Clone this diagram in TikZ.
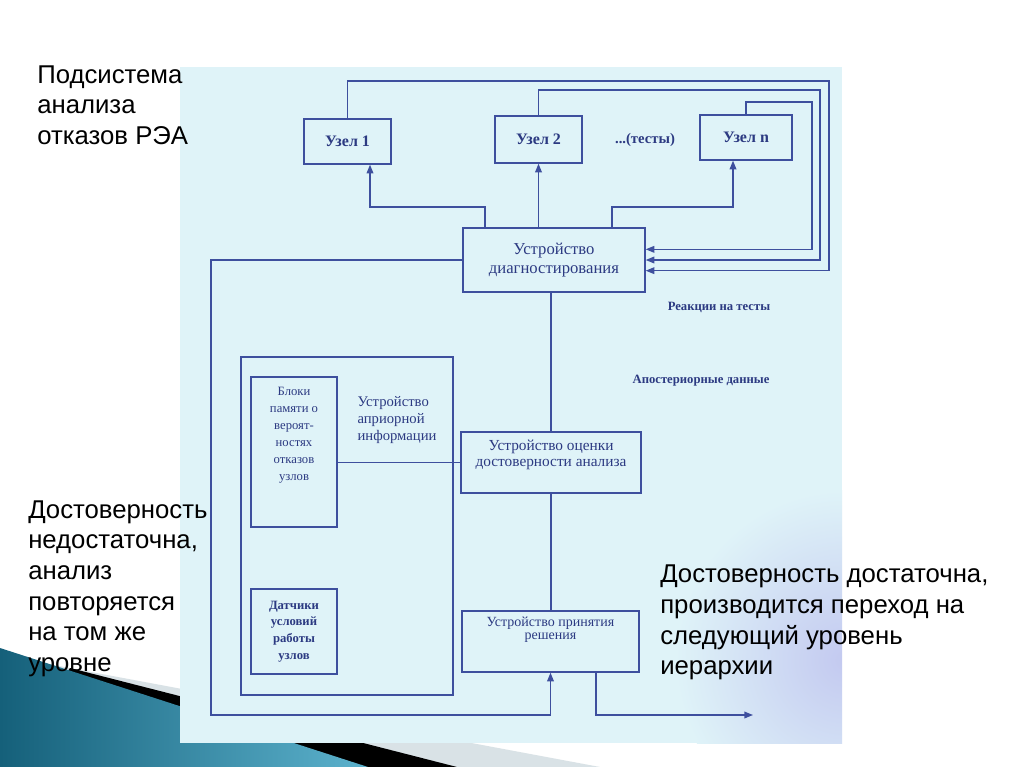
\documentclass[tikz,border=0pt]{standalone}
\usepackage{fontspec}
\setmainfont{Liberation Serif}
\newfontfamily\slidefont{Liberation Sans}
\usetikzlibrary{arrows.meta}
\definecolor{scanbg}{HTML}{DFF3F8}
\definecolor{lavender}{HTML}{C3C9F0}
\definecolor{ink}{HTML}{3E4F9E}
\definecolor{inktext}{HTML}{2C3A82}
\definecolor{tealdark}{HTML}{15607A}
\definecolor{teallight}{HTML}{5CB2CD}
\definecolor{bandgray}{HTML}{D9E2E6}
\tikzset{
    unit/.style={draw=ink, line width=1pt, text=inktext, align=center, inner sep=1pt},
    caption/.style={text=inktext, align=center, inner sep=0pt},
    tag/.style={text=inktext, inner sep=0pt, font=\bfseries\fontsize{9.5}{11}\selectfont},
    link/.style={draw=ink, line width=1pt},
    arr/.style={link, -{Triangle[length=6.5pt,width=5pt]}},
    note/.style={anchor=west, align=left, inner sep=0pt, font=\slidefont\fontsize{19.3}{23}\selectfont},
}

\begin{document}
\begin{tikzpicture}[x=0.75pt,y=-0.75pt]
% slide background
\fill[white] (0,0) rectangle (1024,767);
\useasboundingbox (0,0) rectangle (1024,767);
\fill[bandgray] (0,655) -- (600,767) -- (0,767) -- cycle;
\fill[black] (70,668) -- (457,767) -- (0,767) -- cycle;
\shade[left color=tealdark, right color=teallight] (0,648) -- (368,767) -- (0,767) -- cycle;
% scanned figure
\fill[scanbg] (180,67) rectangle (842,743);
\begin{scope}
\clip (180,67) rectangle (842,743);
\shade[inner color=lavender, outer color=scanbg] (845,660) circle (170);
\end{scope}

% nodes
\node[unit, minimum width=65.25pt, minimum height=33.75pt, font=\bfseries\fontsize{12}{14}\selectfont] (u1) at (347.5,141.5) {Узел 1};
\node[unit, minimum width=65.25pt, minimum height=35.25pt, font=\bfseries\fontsize{12}{14}\selectfont] (u2) at (538.5,139.5) {Узел 2};
\node[unit, minimum width=69pt, minimum height=33.75pt, font=\bfseries\fontsize{12}{14}\selectfont] (un) at (746,137.5) {Узел n};
\node[tag, font=\bfseries\fontsize{11}{13}\selectfont] (tests) at (645,140) {...(тесты)};
\node[unit, minimum width=136.5pt, minimum height=48pt, font=\fontsize{12.5}{14.5}\selectfont] (diag) at (554,260) {Устройство\\диагностирования};
\node[tag] (react) at (719,307) {Реакции на тесты};
\node[tag] (post) at (701,381) {Апостериорные данные};
\node[unit, minimum width=159pt, minimum height=253.5pt] (apr) at (347,526) {};
\node[caption, align=left, font=\fontsize{11}{13}\selectfont] (aprtxt) at (397,420) {Устройство\\априорной\\информации};
\node[unit, minimum width=64.5pt, minimum height=112.5pt] (mem) at (294,452) {};
\node[caption, font=\fontsize{9.5}{12.75}\selectfont] (memtxt) at (294,435.5) {Блоки\\памяти о\\вероят-\\ностях\\отказов\\узлов};
\node[unit, minimum width=64.5pt, minimum height=63.75pt, font=\bfseries\fontsize{9.5}{12.5}\selectfont] (sens) at (294,631.5) {Датчики\\условий\\работы\\узлов};
\node[unit, minimum width=135pt, minimum height=45.75pt] (eval) at (551,462.5) {};
\node[caption, font=\fontsize{11.5}{12.5}\selectfont] (evaltxt) at (551,455) {Устройство оценки\\достоверности анализа};
\node[unit, minimum width=132.75pt, minimum height=45.75pt] (dec) at (550.5,641.5) {};
\node[caption, font=\fontsize{10.5}{10}\selectfont] (dectxt) at (550.5,630) {Устройство принятия\\решения};

% tests to the units
\coordinate (j1) at (485,207);
\coordinate (k1) at (370,207);
\coordinate (j3) at (612,207);
\coordinate (k3) at (733,207);
\draw[arr] (diag.north -| j1) -- (j1) -- (k1) -- (k1 |- u1.south);
\draw[arr] (diag.north -| u2) -- (u2.south);
\draw[arr] (diag.north -| j3) -- (j3) -- (k3) -- (k3 |- un.south);
% reactions back
\coordinate (r1) at (829,81);
\coordinate (r2) at (820,90);
\coordinate (rn) at (812,102);
\draw[arr] (u1.north) |- (r1) |- ([yshift=-8pt]diag.east);
\draw[arr] (u2.north) |- (r2) |- (diag.east);
\draw[arr] (un.north) |- (rn) |- ([yshift=8pt]diag.east);
% repeat loop and decision
\coordinate (lp) at (211,715);
\draw[arr] (diag.west) -| (lp) -| (dec.south);
\draw[link] (eval.north |- diag.south) -- (eval.north);
\draw[link] (eval.south) -- (eval.south |- dec.north);
\draw[link] (mem.east |- eval.west) -- (eval.west);
\coordinate (o1) at (596,715);
\coordinate (out) at (753,715);
\draw[arr] (o1 |- dec.south) -- (o1) -- (out);

% slide text
\node[note] (sub) at (37,105) {Подсистема\\анализа\\отказов РЭА};
\node[note] (low) at (28,588.5) {Достоверность\\недостаточна,\\анализ\\повторяется\\на том же\\уровне};
\node[note] (high) at (660,622.5) {Достоверность достаточна,\\производится переход на\\следующий уровень\\иерархии};
\end{tikzpicture}
\end{document}
